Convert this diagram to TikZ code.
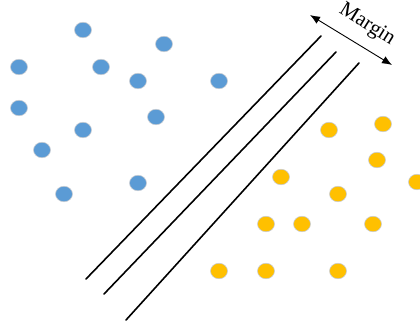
\documentclass[tikz,border=0pt]{standalone}
\usepackage{fontspec}
\setmainfont{Liberation Serif}
\usetikzlibrary{shapes.geometric,arrows.meta}
\definecolor{dotblue}{HTML}{5B9BD5}
\definecolor{dotorange}{HTML}{FFC000}
\definecolor{dotedge}{HTML}{C8CCD2}
\tikzset{
  dot/.style={ellipse, minimum width=17pt, minimum height=15.5pt, inner sep=0pt,
              draw=dotedge, line width=0.6pt},
  bluedot/.style={dot, fill=dotblue},
  orangedot/.style={dot, fill=dotorange},
  boundary/.style={line width=1.6pt, line cap=round},
  marginarrow/.style={line width=0.9pt, {Latex[length=10pt,width=8pt]}-{Latex[length=10pt,width=8pt]}}
}
\begin{document}
\begin{tikzpicture}[x=1pt,y=-1pt]
\useasboundingbox (0,0) rectangle (420,327);
\clip (0,0) rectangle (420,327);
% class A
\node[bluedot] (a1) at (83,30) {};
\node[bluedot] (a2) at (164,44) {};
\node[bluedot] (a3) at (19,67) {};
\node[bluedot] (a4) at (101,67) {};
\node[bluedot] (a5) at (138,81) {};
\node[bluedot] (a6) at (219,81) {};
\node[bluedot] (a7) at (19,108) {};
\node[bluedot] (a8) at (156,117) {};
\node[bluedot] (a9) at (83,130) {};
\node[bluedot] (a10) at (42,150) {};
\node[bluedot] (a11) at (138,183) {};
\node[bluedot] (a12) at (64,194) {};
% class B
\node[orangedot] (b1) at (329,130) {};
\node[orangedot] (b2) at (383,124) {};
\node[orangedot] (b3) at (377,160) {};
\node[orangedot] (b4) at (417,182) {};
\node[orangedot] (b5) at (281,177) {};
\node[orangedot] (b6) at (338,194) {};
\node[orangedot] (b7) at (266,224) {};
\node[orangedot] (b8) at (302,224) {};
\node[orangedot] (b9) at (373,224) {};
\node[orangedot] (b10) at (219,271) {};
\node[orangedot] (b11) at (266,271) {};
\node[orangedot] (b12) at (338,271) {};
% separating lines
\coordinate (l1s) at (86,279);  \coordinate (l1e) at (321,36);
\coordinate (l2s) at (104,294); \coordinate (l2e) at (336,52);
\coordinate (l3s) at (126,320); \coordinate (l3e) at (359,63);
\draw[boundary] (l1s) -- (l1e);
\draw[boundary] (l2s) -- (l2e);
\draw[boundary] (l3s) -- (l3e);
% margin width
\coordinate (m1) at (310,15);
\coordinate (m2) at (392,65);
\draw[marginarrow] (m1) -- (m2);
\node[rotate=-32, font=\fontsize{21}{24}\selectfont, inner sep=0pt] (mlabel) at (367,25) {Margin};
\end{tikzpicture}
\end{document}
